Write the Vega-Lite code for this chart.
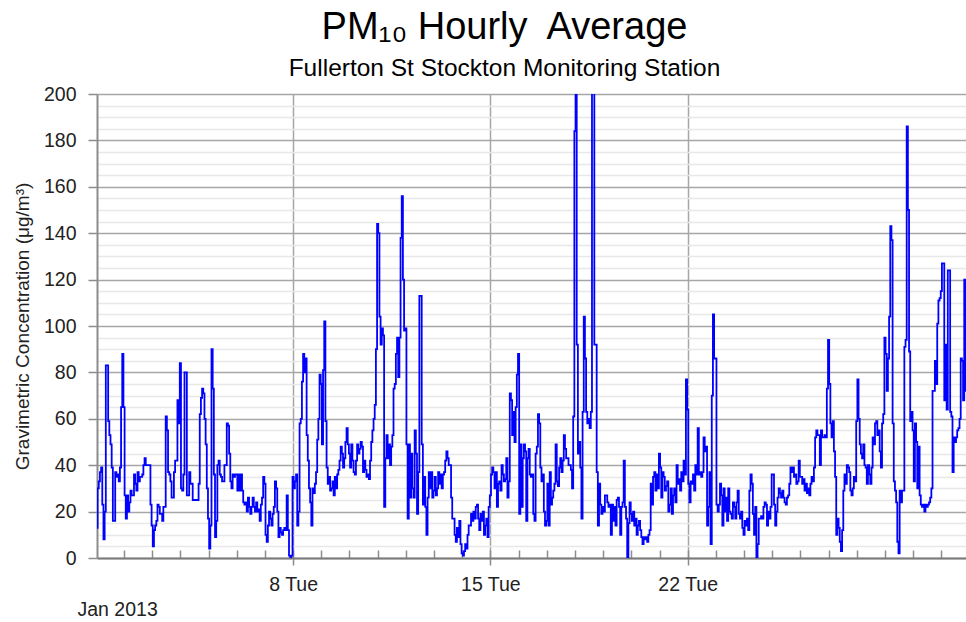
{
"$schema": "https://vega.github.io/schema/vega-lite/v6.json",
"width": 869, "height": 464,
"autosize": {"type": "none"},
"padding": {"left": 97, "top": 94, "right": 0, "bottom": 64},
"background": "white",
"title": {"text": "PM₁₀ Hourly\u00a0 Average", "subtitle": "Fullerton St Stockton Monitoring Station", "font": "Liberation Sans", "fontSize": 38, "fontWeight": "normal", "color": "black", "subtitleFont": "Liberation Sans", "subtitleFontSize": 24.5, "subtitleColor": "black", "anchor": "middle", "offset": 4, "subtitlePadding": 10, "dx": -27},
"config": {"view": {"stroke": null}},
"data": {"values": [
{"h":1,"v":13},{"h":2,"v":30},{"h":3,"v":33},{"h":4,"v":37},{"h":5,"v":39},{"h":6,"v":23},{"h":7,"v":8},{"h":8,"v":20},{"h":9,"v":83},{"h":10,"v":83},{"h":11,"v":59},{"h":12,"v":53},{"h":13,"v":49},{"h":14,"v":39},{"h":15,"v":16},{"h":16,"v":16},{"h":17,"v":37},{"h":18,"v":35},{"h":19,"v":36},{"h":20,"v":33},{"h":21,"v":39},{"h":22,"v":65},{"h":23,"v":88},
{"h":24,"v":65},{"h":25,"v":27},{"h":26,"v":17},{"h":27,"v":27},{"h":28,"v":20},{"h":29,"v":24},{"h":30,"v":29},{"h":31,"v":27},{"h":32,"v":27},{"h":33,"v":36},{"h":34,"v":32},{"h":35,"v":29},{"h":36,"v":37},{"h":37,"v":33},{"h":38,"v":35},{"h":39,"v":35},{"h":40,"v":36},{"h":41,"v":40},{"h":42,"v":43},{"h":43,"v":40},{"h":44,"v":40},{"h":45,"v":40},{"h":46,"v":40},{"h":47,"v":23},
{"h":48,"v":14},{"h":49,"v":5},{"h":50,"v":12},{"h":51,"v":14},{"h":52,"v":16},{"h":53,"v":23},{"h":54,"v":22},{"h":55,"v":19},{"h":56,"v":19},{"h":57,"v":16},{"h":58,"v":22},{"h":59,"v":22},{"h":60,"v":61},{"h":61,"v":55},{"h":62,"v":37},{"h":63,"v":36},{"h":64,"v":33},{"h":65,"v":26},{"h":66,"v":26},{"h":67,"v":37},{"h":68,"v":42},{"h":69,"v":42},{"h":70,"v":68},{"h":71,"v":58},
{"h":72,"v":84},{"h":73,"v":30},{"h":74,"v":29},{"h":75,"v":36},{"h":76,"v":80},{"h":77,"v":80},{"h":78,"v":27},{"h":79,"v":27},{"h":80,"v":37},{"h":81,"v":32},{"h":82,"v":32},{"h":83,"v":25},{"h":84,"v":25},{"h":85,"v":25},{"h":86,"v":25},{"h":87,"v":25},{"h":88,"v":32},{"h":89,"v":62},{"h":90,"v":69},{"h":91,"v":73},{"h":92,"v":71},{"h":93,"v":60},{"h":94,"v":49},{"h":95,"v":30},
{"h":96,"v":17},{"h":97,"v":4},{"h":98,"v":14},{"h":99,"v":90},{"h":100,"v":73},{"h":101,"v":36},{"h":102,"v":9},{"h":103,"v":16},{"h":104,"v":40},{"h":105,"v":42},{"h":106,"v":36},{"h":107,"v":35},{"h":108,"v":33},{"h":109,"v":33},{"h":110,"v":40},{"h":111,"v":40},{"h":112,"v":58},{"h":113,"v":57},{"h":114,"v":45},{"h":115,"v":33},{"h":116,"v":30},{"h":117,"v":36},{"h":118,"v":35},{"h":119,"v":36},
{"h":120,"v":36},{"h":121,"v":29},{"h":122,"v":36},{"h":123,"v":29},{"h":124,"v":36},{"h":125,"v":29},{"h":126,"v":24},{"h":127,"v":23},{"h":128,"v":24},{"h":129,"v":20},{"h":130,"v":26},{"h":131,"v":22},{"h":132,"v":19},{"h":133,"v":22},{"h":134,"v":26},{"h":135,"v":22},{"h":136,"v":20},{"h":137,"v":24},{"h":138,"v":20},{"h":139,"v":21},{"h":140,"v":16},{"h":141,"v":23},{"h":142,"v":26},{"h":143,"v":35},
{"h":144,"v":32},{"h":145,"v":10},{"h":146,"v":7},{"h":147,"v":14},{"h":148,"v":20},{"h":149,"v":17},{"h":150,"v":14},{"h":151,"v":19},{"h":152,"v":22},{"h":153,"v":33},{"h":154,"v":30},{"h":155,"v":20},{"h":156,"v":9},{"h":157,"v":13},{"h":158,"v":11},{"h":159,"v":10},{"h":160,"v":12},{"h":161,"v":13},{"h":162,"v":12},{"h":163,"v":27},{"h":164,"v":12},{"h":165,"v":1},{"h":166,"v":0},{"h":167,"v":1},
{"h":168,"v":35},{"h":169,"v":30},{"h":170,"v":33},{"h":171,"v":36},{"h":172,"v":14},{"h":173,"v":20},{"h":174,"v":58},{"h":175,"v":60},{"h":176,"v":76},{"h":177,"v":88},{"h":178,"v":80},{"h":179,"v":86},{"h":180,"v":53},{"h":181,"v":42},{"h":182,"v":30},{"h":183,"v":24},{"h":184,"v":14},{"h":185,"v":30},{"h":186,"v":28},{"h":187,"v":32},{"h":188,"v":37},{"h":189,"v":51},{"h":190,"v":60},{"h":191,"v":79},
{"h":192,"v":75},{"h":193,"v":49},{"h":194,"v":81},{"h":195,"v":102},{"h":196,"v":59},{"h":197,"v":39},{"h":198,"v":32},{"h":199,"v":35},{"h":200,"v":29},{"h":201,"v":30},{"h":202,"v":33},{"h":203,"v":27},{"h":204,"v":35},{"h":205,"v":30},{"h":206,"v":36},{"h":207,"v":38},{"h":208,"v":42},{"h":209,"v":48},{"h":210,"v":45},{"h":211,"v":39},{"h":212,"v":43},{"h":213,"v":50},{"h":214,"v":56},{"h":215,"v":49},
{"h":216,"v":45},{"h":217,"v":39},{"h":218,"v":49},{"h":219,"v":42},{"h":220,"v":37},{"h":221,"v":36},{"h":222,"v":42},{"h":223,"v":49},{"h":224,"v":45},{"h":225,"v":47},{"h":226,"v":50},{"h":227,"v":48},{"h":228,"v":37},{"h":229,"v":42},{"h":230,"v":38},{"h":231,"v":35},{"h":232,"v":36},{"h":233,"v":34},{"h":234,"v":42},{"h":235,"v":50},{"h":236,"v":55},{"h":237,"v":60},{"h":238,"v":66},{"h":239,"v":90},
{"h":240,"v":144},{"h":241,"v":140},{"h":242,"v":104},{"h":243,"v":92},{"h":244,"v":99},{"h":245,"v":96},{"h":246,"v":22},{"h":247,"v":43},{"h":248,"v":53},{"h":249,"v":43},{"h":250,"v":49},{"h":251,"v":40},{"h":252,"v":48},{"h":253,"v":53},{"h":254,"v":73},{"h":255,"v":75},{"h":256,"v":88},{"h":257,"v":95},{"h":258,"v":78},{"h":259,"v":95},{"h":260,"v":138},{"h":261,"v":156},{"h":262,"v":120},{"h":263,"v":98},
{"h":264,"v":99},{"h":265,"v":49},{"h":266,"v":17},{"h":267,"v":49},{"h":268,"v":26},{"h":269,"v":45},{"h":270,"v":30},{"h":271,"v":26},{"h":272,"v":55},{"h":273,"v":45},{"h":274,"v":19},{"h":275,"v":37},{"h":276,"v":113},{"h":277,"v":113},{"h":278,"v":49},{"h":279,"v":23},{"h":280,"v":35},{"h":281,"v":22},{"h":282,"v":10},{"h":283,"v":26},{"h":284,"v":37},{"h":285,"v":30},{"h":286,"v":37},{"h":287,"v":26},
{"h":288,"v":29},{"h":289,"v":35},{"h":290,"v":27},{"h":291,"v":30},{"h":292,"v":37},{"h":293,"v":32},{"h":294,"v":36},{"h":295,"v":30},{"h":296,"v":36},{"h":297,"v":37},{"h":298,"v":42},{"h":299,"v":46},{"h":300,"v":43},{"h":301,"v":40},{"h":302,"v":40},{"h":303,"v":26},{"h":304,"v":17},{"h":305,"v":17},{"h":306,"v":10},{"h":307,"v":7},{"h":308,"v":13},{"h":309,"v":9},{"h":310,"v":16},{"h":311,"v":6},
{"h":312,"v":2},{"h":313,"v":1},{"h":314,"v":3},{"h":315,"v":6},{"h":316,"v":4},{"h":317,"v":10},{"h":318,"v":14},{"h":319,"v":14},{"h":320,"v":19},{"h":321,"v":16},{"h":322,"v":20},{"h":323,"v":17},{"h":324,"v":22},{"h":325,"v":23},{"h":326,"v":17},{"h":327,"v":12},{"h":328,"v":19},{"h":329,"v":16},{"h":330,"v":20},{"h":331,"v":10},{"h":332,"v":14},{"h":333,"v":17},{"h":334,"v":9},{"h":335,"v":22},
{"h":336,"v":27},{"h":337,"v":36},{"h":338,"v":39},{"h":339,"v":37},{"h":340,"v":30},{"h":341,"v":37},{"h":342,"v":22},{"h":343,"v":32},{"h":344,"v":33},{"h":345,"v":29},{"h":346,"v":40},{"h":347,"v":36},{"h":348,"v":33},{"h":349,"v":34},{"h":350,"v":43},{"h":351,"v":26},{"h":352,"v":33},{"h":353,"v":71},{"h":354,"v":68},{"h":355,"v":53},{"h":356,"v":63},{"h":357,"v":50},{"h":358,"v":65},{"h":359,"v":79},
{"h":360,"v":88},{"h":361,"v":19},{"h":362,"v":49},{"h":363,"v":22},{"h":364,"v":43},{"h":365,"v":49},{"h":366,"v":46},{"h":367,"v":16},{"h":368,"v":43},{"h":369,"v":47},{"h":370,"v":36},{"h":371,"v":35},{"h":372,"v":36},{"h":373,"v":19},{"h":374,"v":16},{"h":375,"v":45},{"h":376,"v":48},{"h":377,"v":62},{"h":378,"v":58},{"h":379,"v":39},{"h":380,"v":33},{"h":381,"v":36},{"h":382,"v":20},{"h":383,"v":14},
{"h":384,"v":16},{"h":385,"v":32},{"h":386,"v":14},{"h":387,"v":37},{"h":388,"v":23},{"h":389,"v":26},{"h":390,"v":29},{"h":391,"v":32},{"h":392,"v":49},{"h":393,"v":33},{"h":394,"v":31},{"h":395,"v":39},{"h":396,"v":43},{"h":397,"v":37},{"h":398,"v":42},{"h":399,"v":53},{"h":400,"v":47},{"h":401,"v":43},{"h":402,"v":43},{"h":403,"v":40},{"h":404,"v":40},{"h":405,"v":38},{"h":406,"v":30},{"h":407,"v":61},
{"h":408,"v":184},{"h":409,"v":250},{"h":410,"v":92},{"h":411,"v":45},{"h":412,"v":50},{"h":413,"v":39},{"h":414,"v":17},{"h":415,"v":63},{"h":416,"v":104},{"h":417,"v":86},{"h":418,"v":63},{"h":419,"v":58},{"h":420,"v":60},{"h":421,"v":56},{"h":422,"v":63},{"h":423,"v":230},{"h":424,"v":240},{"h":425,"v":92},{"h":426,"v":92},{"h":427,"v":37},{"h":428,"v":14},{"h":429,"v":32},{"h":430,"v":23},{"h":431,"v":19},
{"h":432,"v":22},{"h":433,"v":20},{"h":434,"v":27},{"h":435,"v":27},{"h":436,"v":24},{"h":437,"v":22},{"h":438,"v":23},{"h":439,"v":10},{"h":440,"v":23},{"h":441,"v":16},{"h":442,"v":22},{"h":443,"v":14},{"h":444,"v":25},{"h":445,"v":26},{"h":446,"v":22},{"h":447,"v":10},{"h":448,"v":22},{"h":449,"v":24},{"h":450,"v":42},{"h":451,"v":22},{"h":452,"v":17},{"h":453,"v":0},{"h":454,"v":15},{"h":455,"v":24},
{"h":456,"v":19},{"h":457,"v":16},{"h":458,"v":20},{"h":459,"v":14},{"h":460,"v":17},{"h":461,"v":10},{"h":462,"v":14},{"h":463,"v":16},{"h":464,"v":12},{"h":465,"v":9},{"h":466,"v":6},{"h":467,"v":9},{"h":468,"v":8},{"h":469,"v":9},{"h":470,"v":7},{"h":471,"v":10},{"h":472,"v":12},{"h":473,"v":32},{"h":474,"v":23},{"h":475,"v":35},{"h":476,"v":37},{"h":477,"v":29},{"h":478,"v":36},{"h":479,"v":30},
{"h":480,"v":45},{"h":481,"v":39},{"h":482,"v":26},{"h":483,"v":37},{"h":484,"v":35},{"h":485,"v":29},{"h":486,"v":31},{"h":487,"v":33},{"h":488,"v":20},{"h":489,"v":23},{"h":490,"v":30},{"h":491,"v":19},{"h":492,"v":27},{"h":493,"v":30},{"h":494,"v":24},{"h":495,"v":40},{"h":496,"v":32},{"h":497,"v":34},{"h":498,"v":29},{"h":499,"v":37},{"h":500,"v":33},{"h":501,"v":42},{"h":502,"v":36},{"h":503,"v":77},
{"h":504,"v":64},{"h":505,"v":32},{"h":506,"v":24},{"h":507,"v":33},{"h":508,"v":32},{"h":509,"v":36},{"h":510,"v":29},{"h":511,"v":40},{"h":512,"v":36},{"h":513,"v":56},{"h":514,"v":36},{"h":515,"v":37},{"h":516,"v":35},{"h":517,"v":37},{"h":518,"v":52},{"h":519,"v":46},{"h":520,"v":48},{"h":521,"v":14},{"h":522,"v":22},{"h":523,"v":37},{"h":524,"v":6},{"h":525,"v":70},{"h":526,"v":105},{"h":527,"v":86},
{"h":528,"v":86},{"h":529,"v":23},{"h":530,"v":20},{"h":531,"v":23},{"h":532,"v":32},{"h":533,"v":27},{"h":534,"v":14},{"h":535,"v":30},{"h":536,"v":20},{"h":537,"v":26},{"h":538,"v":16},{"h":539,"v":30},{"h":540,"v":20},{"h":541,"v":19},{"h":542,"v":17},{"h":543,"v":24},{"h":544,"v":22},{"h":545,"v":17},{"h":546,"v":24},{"h":547,"v":29},{"h":548,"v":19},{"h":549,"v":17},{"h":550,"v":20},{"h":551,"v":13},
{"h":552,"v":10},{"h":553,"v":16},{"h":554,"v":14},{"h":555,"v":17},{"h":556,"v":12},{"h":557,"v":29},{"h":558,"v":36},{"h":559,"v":32},{"h":560,"v":19},{"h":561,"v":10},{"h":562,"v":22},{"h":563,"v":0},{"h":564,"v":6},{"h":565,"v":17},{"h":566,"v":17},{"h":567,"v":18},{"h":568,"v":17},{"h":569,"v":22},{"h":570,"v":24},{"h":571,"v":23},{"h":572,"v":14},{"h":573,"v":20},{"h":574,"v":17},{"h":575,"v":22},
{"h":576,"v":36},{"h":577,"v":36},{"h":578,"v":23},{"h":579,"v":14},{"h":580,"v":20},{"h":581,"v":26},{"h":582,"v":30},{"h":583,"v":28},{"h":584,"v":26},{"h":585,"v":29},{"h":586,"v":26},{"h":587,"v":24},{"h":588,"v":23},{"h":589,"v":26},{"h":590,"v":27},{"h":591,"v":32},{"h":592,"v":39},{"h":593,"v":37},{"h":594,"v":39},{"h":595,"v":35},{"h":596,"v":36},{"h":597,"v":32},{"h":598,"v":33},{"h":599,"v":42},
{"h":600,"v":35},{"h":601,"v":35},{"h":602,"v":32},{"h":603,"v":34},{"h":604,"v":29},{"h":605,"v":32},{"h":606,"v":28},{"h":607,"v":30},{"h":608,"v":27},{"h":609,"v":32},{"h":610,"v":35},{"h":611,"v":33},{"h":612,"v":39},{"h":613,"v":52},{"h":614,"v":55},{"h":615,"v":53},{"h":616,"v":53},{"h":617,"v":40},{"h":618,"v":55},{"h":619,"v":52},{"h":620,"v":52},{"h":621,"v":53},{"h":622,"v":52},{"h":623,"v":73},
{"h":624,"v":94},{"h":625,"v":75},{"h":626,"v":58},{"h":627,"v":52},{"h":628,"v":59},{"h":629,"v":46},{"h":630,"v":35},{"h":631,"v":10},{"h":632,"v":17},{"h":633,"v":13},{"h":634,"v":7},{"h":635,"v":3},{"h":636,"v":12},{"h":637,"v":29},{"h":638,"v":36},{"h":639,"v":32},{"h":640,"v":40},{"h":641,"v":39},{"h":642,"v":37},{"h":643,"v":29},{"h":644,"v":27},{"h":645,"v":30},{"h":646,"v":35},{"h":647,"v":33},
{"h":648,"v":59},{"h":649,"v":77},{"h":650,"v":60},{"h":651,"v":49},{"h":652,"v":45},{"h":653,"v":43},{"h":654,"v":49},{"h":655,"v":40},{"h":656,"v":39},{"h":657,"v":32},{"h":658,"v":40},{"h":659,"v":36},{"h":660,"v":32},{"h":661,"v":39},{"h":662,"v":52},{"h":663,"v":49},{"h":664,"v":58},{"h":665,"v":59},{"h":666,"v":53},{"h":667,"v":55},{"h":668,"v":46},{"h":669,"v":39},{"h":670,"v":58},{"h":671,"v":62},
{"h":672,"v":95},{"h":673,"v":88},{"h":674,"v":72},{"h":675,"v":86},{"h":676,"v":104},{"h":677,"v":143},{"h":678,"v":137},{"h":679,"v":58},{"h":680,"v":33},{"h":681,"v":29},{"h":682,"v":24},{"h":683,"v":7},{"h":684,"v":2},{"h":685,"v":29},{"h":686,"v":24},{"h":687,"v":29},{"h":688,"v":29},{"h":689,"v":91},{"h":690,"v":94},{"h":691,"v":186},{"h":692,"v":150},{"h":693,"v":89},{"h":694,"v":59},{"h":695,"v":63},
{"h":696,"v":55},{"h":697,"v":33},{"h":698,"v":58},{"h":699,"v":50},{"h":700,"v":30},{"h":701,"v":48},{"h":702,"v":27},{"h":703,"v":23},{"h":704,"v":22},{"h":705,"v":23},{"h":706,"v":20},{"h":707,"v":23},{"h":708,"v":22},{"h":709,"v":23},{"h":710,"v":24},{"h":711,"v":26},{"h":712,"v":30},{"h":713,"v":72},{"h":714,"v":72},{"h":715,"v":85},{"h":716,"v":75},{"h":717,"v":101},{"h":718,"v":111},{"h":719,"v":112},
{"h":720,"v":115},{"h":721,"v":127},{"h":722,"v":127},{"h":723,"v":68},{"h":724,"v":92},{"h":725,"v":64},{"h":726,"v":124},{"h":727,"v":124},{"h":728,"v":63},{"h":729,"v":61},{"h":730,"v":37},{"h":731,"v":52},{"h":732,"v":50},{"h":733,"v":52},{"h":734,"v":55},{"h":735,"v":56},{"h":736,"v":60},{"h":737,"v":86},{"h":738,"v":85},{"h":739,"v":68},{"h":740,"v":120},{"h":741,"v":72}
]},
"resolve": {"axis": {"x": "independent", "y": "independent"}},
"layer": [
{"mark": {"type": "line", "opacity": 0, "clip": true},
 "encoding": {
  "x": {"field": "h", "type": "quantitative", "scale": {"domain": [1, 741], "nice": false, "zero": false},
   "axis": {"orient": "bottom", "values": [24,48,72,96,120,144,168,192,216,240,264,288,312,336,360,384,408,432,456,480,504,528,552,576,600,624,648,672,696,720], "tickSize": -8, "tickColor": "#8c8c8c", "tickWidth": 1.5, "labels": false, "grid": false, "domain": false, "title": null}},
  "y": {"field": "v", "type": "quantitative", "scale": {"domain": [0, 200], "nice": false},
   "axis": {"orient": "left", "values": [5,10,15,25,30,35,45,50,55,65,70,75,85,90,95,105,110,115,125,130,135,145,150,155,165,170,175,185,190,195], "grid": true, "gridColor": "#e8e8e8", "gridWidth": 1.5, "labels": false, "ticks": false, "domain": false, "title": null}}
 }},
{"mark": {"type": "line", "interpolate": "step", "color": "#0000ff", "strokeWidth": 1.8, "clip": true},
 "encoding": {
  "x": {"field": "h", "type": "quantitative",
   "axis": {"orient": "bottom", "values": [168, 336, 504], "labelExpr": "datum.value == 168 ? '8 Tue' : datum.value == 336 ? '15 Tue' : '22 Tue'", "grid": true, "gridColor": "#a6a6a6", "gridWidth": 1.5, "tickSize": 7, "tickColor": "#8c8c8c", "tickWidth": 1.5, "domainColor": "#7a7a7a", "domainWidth": 2, "labelFont": "Liberation Sans", "labelFontSize": 19.5, "labelColor": "#222222", "labelPadding": 10, "title": "Jan 2013", "titleFont": "Liberation Sans", "titleFontSize": 19.5, "titleFontWeight": "normal", "titleColor": "#222222", "titleAnchor": "start", "titleAlign": "left", "titleBaseline": "alphabetic", "titleX": -20, "titleY": 57}},
  "y": {"field": "v", "type": "quantitative",
   "axis": {"orient": "left", "values": [0,20,40,60,80,100,120,140,160,180,200], "grid": true, "gridColor": "#a6a6a6", "gridWidth": 1.5, "tickSize": 9, "tickColor": "#8c8c8c", "tickWidth": 1.5, "domainColor": "#8c8c8c", "domainWidth": 2, "labelFont": "Liberation Sans", "labelFontSize": 19.5, "labelColor": "#222222", "labelPadding": 12, "title": "Gravimetric Concentration (μg/m³)", "titleFont": "Liberation Sans", "titleFontSize": 19, "titleFontWeight": "normal", "titleColor": "#222222", "titlePadding": 11}}
 }}
]
}
